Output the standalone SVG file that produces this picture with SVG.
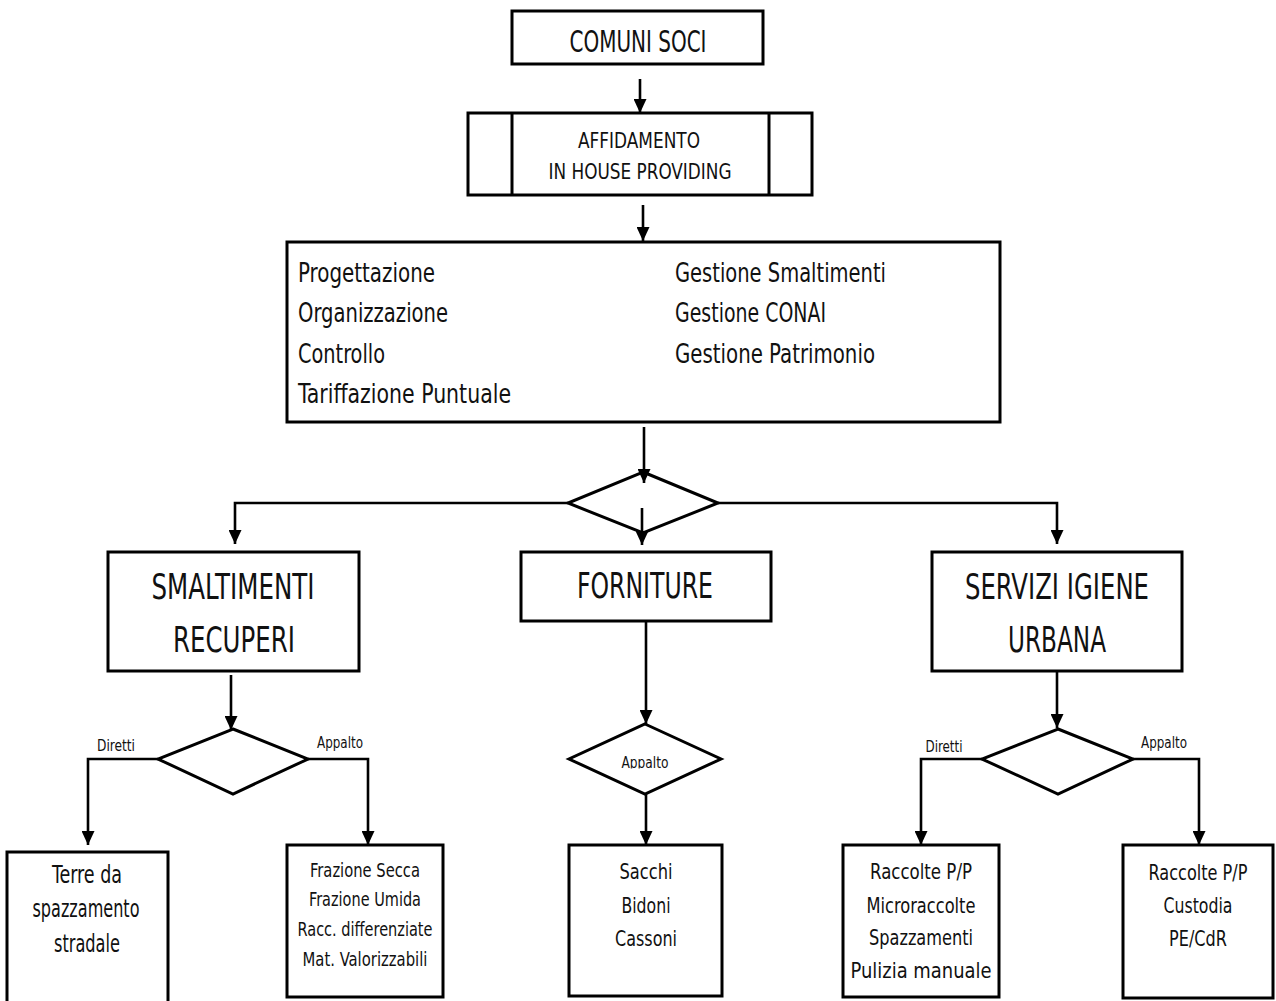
<svg xmlns="http://www.w3.org/2000/svg" width="1276" height="1001" viewBox="0 0 1276 1001">
<style>
.bx{fill:#fff;stroke:#000;stroke-width:3}
.dm{fill:#fff;stroke:#000;stroke-width:3;stroke-linejoin:miter}
.ln{fill:none;stroke:#000;stroke-width:2.6}
text{font-family:"Liberation Sans Narrow","DejaVu Sans Condensed","Liberation Sans",sans-serif;font-stretch:condensed;fill:#111}
.c{text-anchor:middle}
.t32{font-size:31px}.t36{font-size:35px}.t22{font-size:22px}.t24{font-size:24px}.t26{font-size:26px}.t20{font-size:20px}.t16{font-size:16px}
</style>
<defs>
<marker id="ah" viewBox="0 0 14 13" refX="14" refY="6.5" markerWidth="14" markerHeight="13" markerUnits="userSpaceOnUse" orient="auto">
<path d="M0,0 L14,6.5 L0,13 z" fill="#000"/>
</marker>
<clipPath id="clipA"><rect x="600" y="740" width="90" height="28.5"/></clipPath>
</defs>

<g id="connectors">
<line class="ln" x1="640" y1="79" x2="640" y2="113" marker-end="url(#ah)"/>
<line class="ln" x1="643" y1="205" x2="643" y2="241" marker-end="url(#ah)"/>
<polyline class="ln" points="568,503 235,503 235,544" marker-end="url(#ah)"/>
<polyline class="ln" points="718,503 1057,503 1057,544" marker-end="url(#ah)"/>
<line class="ln" x1="231" y1="675" x2="231" y2="730" marker-end="url(#ah)"/>
<polyline class="ln" points="158,759 88,759 88,845" marker-end="url(#ah)"/>
<polyline class="ln" points="308,759 368,759 368,845" marker-end="url(#ah)"/>
<line class="ln" x1="646" y1="621" x2="646" y2="724" marker-end="url(#ah)"/>
<line class="ln" x1="646" y1="794" x2="646" y2="845" marker-end="url(#ah)"/>
<line class="ln" x1="1057" y1="671" x2="1057" y2="728" marker-end="url(#ah)"/>
<polyline class="ln" points="982,759 921,759 921,845" marker-end="url(#ah)"/>
<polyline class="ln" points="1133,759 1199,759 1199,845" marker-end="url(#ah)"/>
</g>

<g id="comuni">
<rect class="bx" x="512" y="11" width="251" height="53"/>
<text class="c t32" x="638" y="52" textLength="137" lengthAdjust="spacingAndGlyphs">COMUNI SOCI</text>
</g>

<g id="affidamento">
<rect class="bx" x="468" y="113" width="344" height="82"/>
<line class="ln" x1="512" y1="113" x2="512" y2="195" style="stroke-width:3"/>
<line class="ln" x1="769" y1="113" x2="769" y2="195" style="stroke-width:3"/>
<text class="c t22" x="639" y="148" textLength="122" lengthAdjust="spacingAndGlyphs">AFFIDAMENTO</text>
<text class="c t22" x="640" y="179" textLength="183" lengthAdjust="spacingAndGlyphs">IN HOUSE PROVIDING</text>
</g>

<g id="attivita">
<rect class="bx" x="287" y="242" width="713" height="180"/>
<text class="t26" x="298" y="282" textLength="137" lengthAdjust="spacingAndGlyphs">Progettazione</text>
<text class="t26" x="298" y="322" textLength="150" lengthAdjust="spacingAndGlyphs">Organizzazione</text>
<text class="t26" x="298" y="363" textLength="87" lengthAdjust="spacingAndGlyphs">Controllo</text>
<text class="t26" x="298" y="403" textLength="213" lengthAdjust="spacingAndGlyphs">Tariffazione Puntuale</text>
<text class="t26" x="675" y="282" textLength="211" lengthAdjust="spacingAndGlyphs">Gestione Smaltimenti</text>
<text class="t26" x="675" y="322" textLength="151" lengthAdjust="spacingAndGlyphs">Gestione CONAI</text>
<text class="t26" x="675" y="363" textLength="200" lengthAdjust="spacingAndGlyphs">Gestione Patrimonio</text>
</g>

<g id="decisione-principale">
<polygon class="dm" points="643,472 718,503 643,533 568,503"/>
</g>
<g id="connectors-inner">
<line class="ln" x1="644" y1="427" x2="644" y2="483" marker-end="url(#ah)"/>
<line class="ln" x1="642" y1="508" x2="642" y2="545" marker-end="url(#ah)"/>
</g>

<g id="smaltimenti">
<rect class="bx" x="108" y="552" width="251" height="119"/>
<text class="c t36" x="233" y="599" textLength="163" lengthAdjust="spacingAndGlyphs">SMALTIMENTI</text>
<text class="c t36" x="234" y="652" textLength="122" lengthAdjust="spacingAndGlyphs">RECUPERI</text>
</g>

<g id="forniture">
<rect class="bx" x="521" y="552" width="250" height="69"/>
<text class="c t36" x="645" y="598" textLength="136" lengthAdjust="spacingAndGlyphs">FORNITURE</text>
</g>

<g id="servizi">
<rect class="bx" x="932" y="552" width="250" height="119"/>
<text class="c t36" x="1057" y="599" textLength="184" lengthAdjust="spacingAndGlyphs">SERVIZI IGIENE</text>
<text class="c t36" x="1057" y="652" textLength="98" lengthAdjust="spacingAndGlyphs">URBANA</text>
</g>

<g id="decisione-smaltimenti">
<polygon class="dm" points="233,729 308,759 233,794 158,759"/>
<text class="c t16" x="116" y="751" textLength="38" lengthAdjust="spacingAndGlyphs">Diretti</text>
<text class="c t16" x="340" y="748" textLength="46" lengthAdjust="spacingAndGlyphs">Appalto</text>
</g>

<g id="decisione-forniture">
<polygon class="dm" points="645,724 721,759 645,794 569,759"/>
<text class="c t16" x="645" y="768" textLength="47" lengthAdjust="spacingAndGlyphs" clip-path="url(#clipA)">Appalto</text>
</g>

<g id="decisione-servizi">
<polygon class="dm" points="1058,729 1133,759 1058,794 982,759"/>
<text class="c t16" x="944" y="752" textLength="37" lengthAdjust="spacingAndGlyphs">Diretti</text>
<text class="c t16" x="1164" y="748" textLength="46" lengthAdjust="spacingAndGlyphs">Appalto</text>
</g>

<g id="terre">
<rect class="bx" x="7" y="852" width="161" height="160"/>
<text class="c t24" x="87" y="883" textLength="70" lengthAdjust="spacingAndGlyphs">Terre da</text>
<text class="c t24" x="86" y="917" textLength="107" lengthAdjust="spacingAndGlyphs">spazzamento</text>
<text class="c t24" x="87" y="952" textLength="66" lengthAdjust="spacingAndGlyphs">stradale</text>
</g>

<g id="frazioni">
<rect class="bx" x="287" y="845" width="156" height="152"/>
<text class="c t20" x="365" y="877" textLength="110" lengthAdjust="spacingAndGlyphs">Frazione Secca</text>
<text class="c t20" x="365" y="906" textLength="112" lengthAdjust="spacingAndGlyphs">Frazione Umida</text>
<text class="c t20" x="365" y="936" textLength="135" lengthAdjust="spacingAndGlyphs">Racc. differenziate</text>
<text class="c t20" x="365" y="966" textLength="125" lengthAdjust="spacingAndGlyphs">Mat. Valorizzabili</text>
</g>

<g id="contenitori">
<rect class="bx" x="569" y="845" width="153" height="151"/>
<text class="c t22" x="646" y="879" textLength="53" lengthAdjust="spacingAndGlyphs">Sacchi</text>
<text class="c t22" x="646" y="913" textLength="49" lengthAdjust="spacingAndGlyphs">Bidoni</text>
<text class="c t22" x="646" y="946" textLength="62" lengthAdjust="spacingAndGlyphs">Cassoni</text>
</g>

<g id="servizi-diretti">
<rect class="bx" x="843" y="845" width="156" height="152"/>
<text class="c t22" x="921" y="879" textLength="102" lengthAdjust="spacingAndGlyphs">Raccolte P/P</text>
<text class="c t22" x="921" y="913" textLength="109" lengthAdjust="spacingAndGlyphs">Microraccolte</text>
<text class="c t22" x="921" y="945" textLength="104" lengthAdjust="spacingAndGlyphs">Spazzamenti</text>
<text class="c t22" x="921" y="978" textLength="141" lengthAdjust="spacingAndGlyphs">Pulizia manuale</text>
</g>

<g id="servizi-appalto">
<rect class="bx" x="1123" y="845" width="150" height="153"/>
<text class="c t22" x="1198" y="880" textLength="99" lengthAdjust="spacingAndGlyphs">Raccolte P/P</text>
<text class="c t22" x="1198" y="913" textLength="69" lengthAdjust="spacingAndGlyphs">Custodia</text>
<text class="c t22" x="1198" y="946" textLength="58" lengthAdjust="spacingAndGlyphs">PE/CdR</text>
</g>
</svg>
